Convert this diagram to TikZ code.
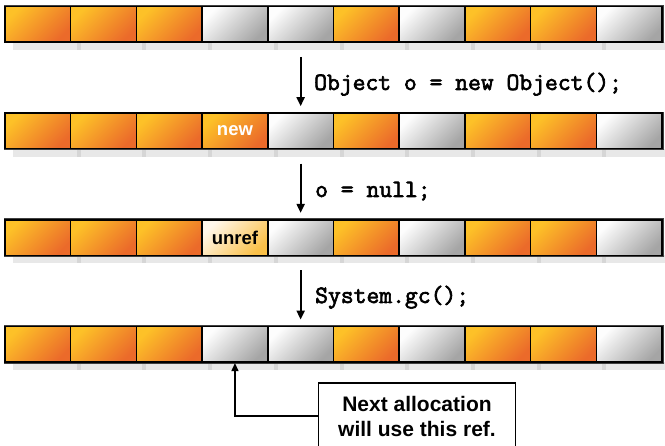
\documentclass[tikz,border=0pt]{standalone}
\usepackage{fontspec}
\setmainfont{Liberation Sans}
\newfontfamily\codefont{Latin Modern Mono}[FakeBold=2.6]
\usetikzlibrary{arrows.meta}

\definecolor{liveyellow}{RGB}{253,193,40}
\definecolor{liveorange}{RGB}{235,106,42}
\definecolor{freelight}{RGB}{253,253,253}
\definecolor{freedark}{RGB}{165,165,165}
\definecolor{deadlight}{RGB}{255,247,235}
\definecolor{deaddark}{RGB}{250,192,72}

\tikzset{
  slot/.style={draw=black, line width=1.5pt, inner sep=0pt, outer sep=0pt,
    minimum width=65.7pt, minimum height=35.5pt, anchor=north west},
  live/.style={slot, top color=liveyellow, bottom color=liveorange, shading angle=45},
  free/.style={slot, top color=freelight, bottom color=freedark, shading angle=45},
  fresh/.style={live, text=white, font=\bfseries\fontsize{18.5}{20}\selectfont},
  dead/.style={slot, top color=deadlight, bottom color=deaddark, shading angle=45,
    font=\bfseries\fontsize{18.5}{20}\selectfont},
  code/.style={anchor=base west, inner sep=0pt, font=\codefont\fontsize{24.9}{26}\selectfont},
  flow/.style={-{Triangle[width=8pt,length=9pt]}, line width=2pt, shorten <=15pt, shorten >=7pt},
  note/.style={draw, line width=1.4pt, fill=white, minimum width=197pt, minimum height=66pt,
    inner sep=0pt, align=center, font=\bfseries\fontsize{21}{25}\selectfont},
  pointer/.style={-{Triangle[width=7pt,length=8pt]}, line width=1.4pt, shorten >=1pt},
}

\begin{document}
\begin{tikzpicture}[x=1pt, y=-1pt]
\useasboundingbox (0,0) rectangle (665,446);

% the heap, one row per step
\foreach \r/\fourth/\word in {1/free/{},2/fresh/new,3/dead/unref,4/free/{}} {
  \pgfmathsetmacro\rowtop{6.5+106.7*(\r-1)}
  % shadow strip under the row
  \fill[gray!18] (13,\rowtop+35.5) rectangle (665,\rowtop+43.5);
  \foreach \i in {1,...,9}
    \fill[gray!32] (5+65.7*\i+6,\rowtop+35.5) rectangle (5+65.7*\i+10,\rowtop+43.5);
  \draw[black!75, line width=3pt] (5,\rowtop) rectangle (662,\rowtop+35.5);
  \foreach \i/\kind in {1/live,2/live,3/live,4/\fourth,5/free,6/live,7/free,8/live,9/live,10/free}
    \node[\kind] (c\r-\i) at (5+65.7*\i-65.7,\rowtop) {\ifnum\i=4 \word\fi};
}

% steps between the rows
\draw[flow] (c1-5) -- (c2-5);
\draw[flow] (c2-5) -- (c3-5);
\draw[flow] (c3-5) -- (c4-5);
\node[code] (alloc) at (314,90) {Object o = new Object();};
\node[code] (drop) at (315,197) {o = null;};
\node[code] (collect) at (315,303) {System.gc();};

% callout
\node[note] (hint) at (417,416) {Next allocation\\will use this ref.};
\draw[pointer] (hint.west) -| (c4-4.south);

\end{tikzpicture}
\end{document}
